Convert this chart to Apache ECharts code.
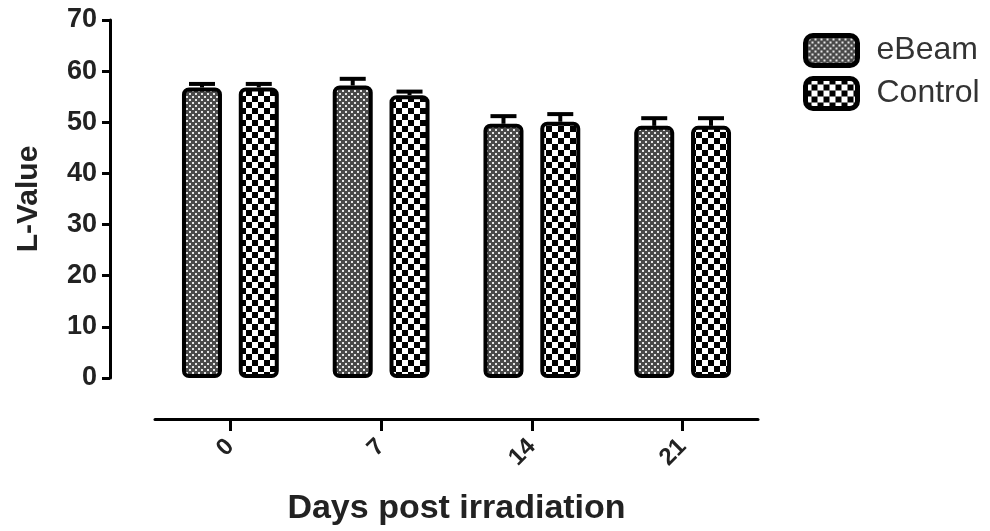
<!DOCTYPE html>
<html>
<head>
<meta charset="utf-8">
<script src="https://cdn.jsdelivr.net/npm/echarts@6/dist/echarts.min.js"></script>
<style>
html,body{margin:0;padding:0;background:#fff;}
#chart{width:990px;height:531px;}
</style>
</head>
<body>
<div id="chart"></div>
<script>
// ---- data ----
const categories = ['0', '7', '14', '21'];
const seriesNames = ['eBeam', 'Control'];
const eBeamValues = [56.8, 57.2, 49.7, 49.3];
const eBeamErrors = [0.7, 1.3, 1.5, 1.5];
const controlValues = [56.8, 55.3, 50.1, 49.3];
const controlErrors = [0.7, 0.7, 1.5, 1.5];
const yTicks = { min: 0, max: 70, interval: 10 };

// ---- patterns ----
function makeDotPattern() {
  const c = document.createElement('canvas');
  c.width = 6; c.height = 6;
  const g = c.getContext('2d');
  g.fillStyle = '#4a4a4a'; g.fillRect(0, 0, 6, 6);
  g.fillStyle = '#e6e6e6';
  g.fillRect(0, 0, 2, 2);
  g.fillRect(3, 3, 2, 2);
  return c;
}
function makeCheckPattern() {
  const c = document.createElement('canvas');
  c.width = 12; c.height = 12;
  const g = c.getContext('2d');
  g.fillStyle = '#ffffff'; g.fillRect(0, 0, 12, 12);
  g.fillStyle = '#000000';
  g.fillRect(0, 0, 6, 6);
  g.fillRect(6, 6, 6, 6);
  return c;
}
const dotPattern = { image: makeDotPattern(), repeat: 'repeat' };
const checkPattern = { image: makeCheckPattern(), repeat: 'repeat' };

const BAR_W = 40;
const BAR_GAP_PCT = 42;
const barOffset = (BAR_W + BAR_W * BAR_GAP_PCT / 100) / 2;

function errorSeries(values, errors, sign) {
  return {
    type: 'custom',
    z: 3,
    silent: true,
    data: values.map((v, i) => [i, v, errors[i]]),
    renderItem: function (params, api) {
      const i = api.value(0);
      const v = api.value(1);
      const e = api.value(2);
      const base = api.coord([i, v]);
      const top = api.coord([i, v + e]);
      const x = base[0] + sign * barOffset;
      const half = 13;
      const style = { stroke: '#000', lineWidth: 4, fill: null };
      return {
        type: 'group',
        children: [
          { type: 'line', shape: { x1: x, y1: base[1], x2: x, y2: top[1] }, style: style },
          { type: 'line', shape: { x1: x - half, y1: top[1], x2: x + half, y2: top[1] }, style: style }
        ]
      };
    }
  };
}

const FONT = 'Liberation Sans, Arial, sans-serif';
const chart = echarts.init(document.getElementById('chart'), null, { renderer: 'canvas' });
chart.setOption({
  backgroundColor: '#ffffff',
  animation: false,
  grid: { left: 155, right: 232, top: 20, bottom: 153, containLabel: false, outerBoundsMode: 'none' },
  legend: {
    left: 798, top: 28, orient: 'vertical',
    itemWidth: 52, itemHeight: 30, itemGap: 8,
    data: seriesNames,
    itemStyle: { borderColor: '#000', borderWidth: 5 },
    textStyle: { fontFamily: FONT, fontSize: 32, color: '#333', padding: [0, 0, 0, 14] }
  },
  xAxis: {
    type: 'category',
    data: categories,
    offset: 41,
    name: 'Days post irradiation',
    nameLocation: 'middle',
    nameGap: 73,
    nameTextStyle: { fontFamily: FONT, fontWeight: 'bold', fontSize: 34, color: '#222' },
    axisLine: { show: true, onZero: false, lineStyle: { color: '#000', width: 3 } },
    axisTick: { show: true, alignWithLabel: true, length: 12, lineStyle: { color: '#000', width: 3 } },
    axisLabel: { rotate: 45, margin: 24, fontFamily: FONT, fontWeight: 'bold', fontSize: 24, color: '#222' },
    splitLine: { show: false }
  },
  yAxis: {
    type: 'value',
    min: yTicks.min, max: yTicks.max, interval: yTicks.interval,
    offset: 45,
    name: 'L-Value',
    nameLocation: 'middle',
    nameGap: 66,
    nameTextStyle: { fontFamily: FONT, fontWeight: 'bold', fontSize: 30, color: '#222' },
    axisLine: { show: true, onZero: false, lineStyle: { color: '#000', width: 3 } },
    axisTick: { show: true, length: 8, lineStyle: { color: '#000', width: 3 } },
    axisLabel: { margin: 13, fontFamily: FONT, fontWeight: 'bold', fontSize: 27, color: '#222' },
    splitLine: { show: false }
  },
  series: [
    {
      name: seriesNames[0], type: 'bar', data: eBeamValues,
      barWidth: BAR_W, barGap: BAR_GAP_PCT + '%',
      itemStyle: { color: dotPattern, borderColor: '#000', borderWidth: 4, borderRadius: 5 }
    },
    {
      name: seriesNames[1], type: 'bar', data: controlValues,
      barWidth: BAR_W, barGap: BAR_GAP_PCT + '%',
      itemStyle: { color: checkPattern, borderColor: '#000', borderWidth: 4, borderRadius: 5 }
    },
    errorSeries(eBeamValues, eBeamErrors, -1),
    errorSeries(controlValues, controlErrors, 1)
  ]
});
</script>
</body>
</html>
